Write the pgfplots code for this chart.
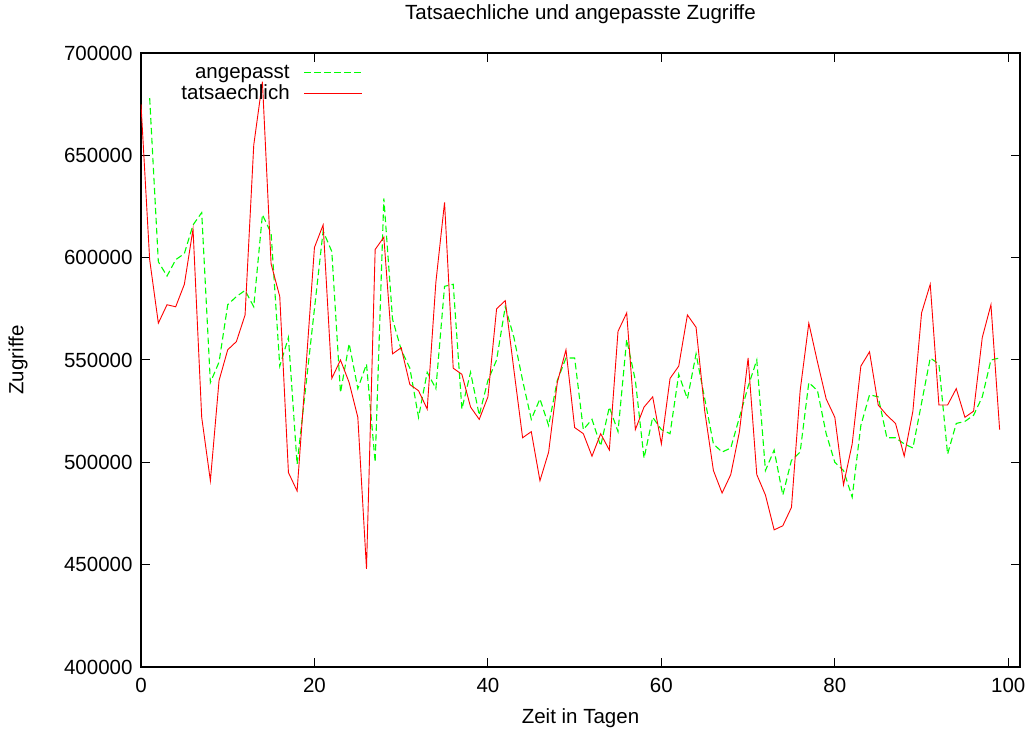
\documentclass[border=0pt]{standalone}
\usepackage{fontspec}
\setmainfont{Liberation Sans}
\usepackage{pgfplots}
\pgfplotsset{compat=1.18}
\usepackage{pgfplotstable}

\pgfplotstableread{
d v
0 675
1 599
2 568
3 577
4 576
5 587
6 614
7 522
8 491
9 540
10 555
11 559
12 572
13 655
14 686
15 597
16 581
17 495
18 486
19 545
20 605
21 616
22 541
23 550
24 539
25 522
26 448
27 604
28 610
29 553
30 556
31 538
32 535
33 526
34 588
35 627
36 546
37 543
38 527
39 521
40 532
41 575
42 579
43 545
44 512
45 515
46 491
47 505
48 539
49 555
50 517
51 514
52 503
53 514
54 506
55 564
56 573
57 516
58 527
59 532
60 509
61 541
62 547
63 572
64 566
65 525
66 496
67 485
68 494
69 515
70 551
71 494
72 484
73 467
74 469
75 478
76 535
77 568
78 549
79 531
80 522
81 489
82 509
83 547
84 554
85 528
86 523
87 519
88 503
89 525
90 573
91 587
92 528
93 528
94 536
95 522
96 525
97 561
98 577
99 516
}\tatsaechlich

\pgfplotstableread{
d v
1 678
2 598
3 591
4 599
5 602
6 616
7 622
8 539
9 549
10 577
11 581
12 584
13 576
14 621
15 612
16 547
17 561
18 499
19 537
20 575
21 613
22 603
23 534
24 558
25 536
26 548
27 500
28 629
29 570
30 555
31 546
32 522
33 544
34 536
35 586
36 587
37 526
38 544
39 523
40 540
41 550
42 576
43 561
44 540
45 521
46 531
47 518
48 540
49 551
50 551
51 516
52 521
53 508
54 527
55 515
56 560
57 540
58 502
59 522
60 516
61 514
62 543
63 531
64 553
65 531
66 509
67 505
68 507
69 522
70 537
71 550
72 496
73 506
74 484
75 501
76 505
77 539
78 535
79 514
80 500
81 496
82 483
83 518
84 533
85 532
86 512
87 512
88 509
89 507
90 529
91 551
92 548
93 504
94 519
95 520
96 523
97 532
98 550
99 551
}\angepasst

\definecolor{gpgreen}{RGB}{0,255,0}
\definecolor{gpred}{RGB}{255,0,0}

\begin{document}
\begin{tikzpicture}
\useasboundingbox (-141bp,-65bp) rectangle (891bp,667bp);
\begin{axis}[
  at={(0,0)}, anchor=south west,
  scale only axis,
  width=879bp, height=614bp,
  xmin=0, xmax=101.35, ymin=400000, ymax=700000,
  xtick={0,20,40,60,80,100},
  ytick={400000,450000,500000,550000,600000,650000,700000},
  scaled y ticks=false,
  /pgf/number format/assume math mode=true,
  /pgf/number format/fixed,
  /pgf/number format/1000 sep={},
  tick align=inside,
  major tick length=9bp,
  minor tick num=0,
  axis line style={line width=1.1bp},
  every tick/.style={line width=1bp, black},
  ticklabel style={font=\fontsize{20.5bp}{24bp}\selectfont},
  yticklabel style={xshift=-5bp},
  xticklabel style={yshift=-8bp},
  title={Tatsaechliche und angepasste Zugriffe},
  title style={at={(axis description cs:0.5,1.0537)}, anchor=center, font=\fontsize{20.5bp}{24bp}\selectfont},
  xlabel={Zeit in Tagen},
  xlabel style={at={(axis description cs:0.5,-0.0831)}, anchor=center, font=\fontsize{20.5bp}{24bp}\selectfont},
  ylabel={Zugriffe},
  ylabel style={at={(axis description cs:-0.1399,0.5)}, anchor=center, font=\fontsize{20.5bp}{24bp}\selectfont},
  legend style={draw=none, fill=none, at={(axis description cs:0.2537,0.985)}, anchor=north east,
    legend plot pos=right, font=\fontsize{20.5bp}{22bp}\selectfont, legend cell align=right,
    row sep=1bp, inner sep=1bp,
    /tikz/every odd column/.append style={column sep=12bp}},
  legend image code/.code={\draw[#1] (0bp,0bp) -- (58bp,0bp);},
]
\addplot[gpgreen, line width=1.1bp, dash pattern=on 6.5bp off 3.5bp] table[x=d, y expr=\thisrow{v}*1000] {\angepasst};
\addlegendentry{angepasst}
\addplot[gpred, line width=0.9bp] table[x=d, y expr=\thisrow{v}*1000] {\tatsaechlich};
\addlegendentry{tatsaechlich}
\end{axis}
\end{tikzpicture}
\end{document}
